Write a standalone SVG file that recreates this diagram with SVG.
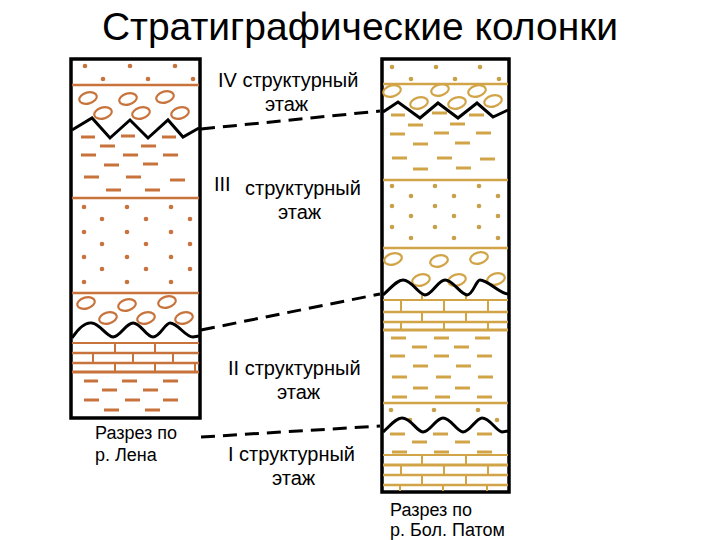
<svg xmlns="http://www.w3.org/2000/svg" width="720" height="540" viewBox="0 0 720 540">
<style>
text{font-family:"Liberation Sans",Arial,sans-serif;fill:#000}
.lbl{font-size:20px}
.cap{font-size:18px}
.L{stroke:#c8733c;fill:none}
.R{stroke:#d2a448;fill:none}
.dl{fill:#c8733c}.dr{fill:#c9a04a}
.zig{stroke:#000;stroke-width:3;fill:none;stroke-linejoin:miter}
.frame{fill:#fff;stroke:#000;stroke-width:3.5}
.con{stroke:#000;stroke-width:3;stroke-dasharray:14,8;fill:none}
</style>
<defs>
<ellipse id="ov" cx="0" cy="0" rx="9" ry="5.5" transform="rotate(-15)" stroke-width="2.2"/>
</defs>
<rect width="720" height="540" fill="#fff"/>
<text x="360" y="40" font-size="39" text-anchor="middle">Стратиграфические колонки</text>

<g id="col-lena">
<rect class="frame" x="71" y="59" width="129" height="359"/>
<g class="dl">
<circle cx="85" cy="66" r="2.3"/><circle cx="130" cy="66" r="2.3"/><circle cx="175" cy="66" r="2.3"/>
<circle cx="103" cy="79" r="2.3"/><circle cx="148" cy="79" r="2.3"/><circle cx="193" cy="79" r="2.3"/>
<circle cx="84" cy="207" r="2.3"/><circle cx="127" cy="207" r="2.3"/><circle cx="171" cy="207" r="2.3"/>
<circle cx="102" cy="219" r="2.3"/><circle cx="146" cy="219" r="2.3"/><circle cx="190" cy="219" r="2.3"/>
<circle cx="84" cy="232" r="2.3"/><circle cx="127" cy="232" r="2.3"/><circle cx="171" cy="232" r="2.3"/>
<circle cx="102" cy="244" r="2.3"/><circle cx="146" cy="244" r="2.3"/><circle cx="190" cy="244" r="2.3"/>
<circle cx="84" cy="257" r="2.3"/><circle cx="127" cy="257" r="2.3"/><circle cx="171" cy="257" r="2.3"/>
<circle cx="102" cy="269" r="2.3"/><circle cx="146" cy="269" r="2.3"/><circle cx="190" cy="269" r="2.3"/>
<circle cx="84" cy="282" r="2.3"/><circle cx="127" cy="282" r="2.3"/><circle cx="171" cy="282" r="2.3"/>
</g>
<g class="L" stroke-width="2.5">
<line x1="72" y1="85" x2="199" y2="85"/>
<line x1="72" y1="198" x2="199" y2="198"/>
<line x1="72" y1="293" x2="199" y2="293"/>
<line x1="72" y1="343" x2="199" y2="343" stroke-width="2"/>
<line x1="72" y1="353" x2="199" y2="353"/>
<line x1="72" y1="363" x2="199" y2="363"/>
<line x1="72" y1="372" x2="199" y2="372" stroke-width="3"/>
<path d="M115,343v10M155,343v10M93,353v10M133,353v10M173,353v10M115,363v9M155,363v9M195,363v9" stroke-width="2"/>
</g>
<g class="L">
<use href="#ov" x="88" y="98"/><use href="#ov" x="128" y="99"/><use href="#ov" x="165" y="97"/>
<use href="#ov" x="103" y="113"/><use href="#ov" x="141" y="113"/><use href="#ov" x="180" y="113"/>
<use href="#ov" x="86" y="303"/><use href="#ov" x="127" y="305"/><use href="#ov" x="167" y="302"/>
<use href="#ov" x="108" y="318"/><use href="#ov" x="146" y="318"/><use href="#ov" x="184" y="318"/>
</g>
<path class="L" stroke-width="3" d="M81,137h14M121,136h14M162,137h14M100,146h15M141,146h15M81,155h15M123,155h15M163,155h15M104,165h15M143,164h15M84,177h15M126,177h15M170,180h15M106,190h15M145,190h15M84,381h14M122,381h15M163,381h15M102,390h15M143,390h15M84,400h15M125,400h15M163,400h15M104,410h15M145,410h15"/>
<path class="zig" d="M72,130L92,118L110,138L130,120L148,138L168,120L183,137L199,128"/>
<path class="zig" d="M72,338C80,326 86,322 92,323C100,324 106,336 113,337C120,337 126,323 133,323C141,323 146,337 153,337C160,337 165,323 170,323C178,323 185,337 193,337L199,336"/>
</g>

<g id="col-patom">
<rect class="frame" x="382" y="59" width="127" height="433"/>
<g class="dr">
<circle cx="392" cy="67" r="2.3"/><circle cx="436" cy="67" r="2.3"/><circle cx="480" cy="67" r="2.3"/>
<circle cx="411" cy="79" r="2.3"/><circle cx="455" cy="79" r="2.3"/><circle cx="499" cy="79" r="2.3"/>
<circle cx="392" cy="186" r="2.3"/><circle cx="435" cy="186" r="2.3"/><circle cx="479" cy="186" r="2.3"/>
<circle cx="411" cy="196" r="2.3"/><circle cx="454" cy="196" r="2.3"/><circle cx="498" cy="196" r="2.3"/>
<circle cx="392" cy="206" r="2.3"/><circle cx="435" cy="206" r="2.3"/><circle cx="479" cy="206" r="2.3"/>
<circle cx="411" cy="216" r="2.3"/><circle cx="454" cy="216" r="2.3"/><circle cx="498" cy="216" r="2.3"/>
<circle cx="392" cy="227" r="2.3"/><circle cx="435" cy="227" r="2.3"/><circle cx="479" cy="227" r="2.3"/>
<circle cx="411" cy="238" r="2.3"/><circle cx="454" cy="238" r="2.3"/><circle cx="498" cy="238" r="2.3"/>
<circle cx="391" cy="410" r="2.3"/><circle cx="434" cy="410" r="2.3"/><circle cx="478" cy="410" r="2.3"/>
<circle cx="410" cy="420" r="2.3"/><circle cx="497" cy="420" r="2.3"/>
</g>
<g class="R" stroke-width="2.5">
<line x1="383" y1="84" x2="508" y2="84"/>
<line x1="383" y1="180" x2="508" y2="180"/>
<line x1="383" y1="248" x2="508" y2="248"/>
<line x1="383" y1="300" x2="508" y2="300" stroke-width="2"/>
<line x1="383" y1="312" x2="508" y2="312"/>
<line x1="383" y1="322" x2="508" y2="322"/>
<line x1="383" y1="330" x2="508" y2="330" stroke-width="3"/>
<line x1="383" y1="403" x2="508" y2="403"/>
<line x1="383" y1="455" x2="508" y2="455" stroke-width="2"/>
<line x1="383" y1="465" x2="508" y2="465" stroke-width="3"/>
<line x1="383" y1="475" x2="508" y2="475"/>
<line x1="383" y1="485" x2="508" y2="485"/>
<path d="M422,294v6M466,294v6M401,300v12M444,300v12M488,300v12M422,312v10M466,312v10M401,322v8M444,322v8M488,322v8M422,455v10M466,455v10M401,465v10M444,465v10M488,465v10M422,475v10M466,475v10M400,485v6M443,485v6M487,485v6" stroke-width="2"/>
</g>
<g class="R">
<use href="#ov" x="392" y="91"/><use href="#ov" x="440" y="90"/><use href="#ov" x="477" y="91"/>
<use href="#ov" x="419" y="103"/><use href="#ov" x="457" y="103"/><use href="#ov" x="493" y="101"/>
<use href="#ov" x="393" y="259"/><use href="#ov" x="439" y="261"/><use href="#ov" x="479" y="258"/>
<use href="#ov" x="421" y="280"/><use href="#ov" x="457" y="280"/><use href="#ov" x="496" y="279"/>
</g>
<path class="R" stroke-width="3" d="M391,115h14M432,113h15M469,115h15M408,125h15M450,124h15M390,134h15M434,133h15M476,133h15M413,144h15M455,143h15M392,158h15M437,158h15M480,159h15M413,169h15M456,168h15M391,338h15M434,338h15M475,338h15M412,347h15M454,347h15M390,356h15M434,356h15M477,356h15M413,366h15M456,366h15M392,377h15M436,377h15M478,377h15M413,388h15M455,388h15M392,397h15M435,397h15M477,397h15M390,434h15M433,434h15M477,434h15M412,442h15M455,442h15M392,452h15M434,452h15M477,452h15"/>
<path class="zig" d="M383,112L398,102L420,118L438,103L458,118L477,103L493,117L508,110"/>
<path class="zig" d="M383,295C392,287 397,280 403,280C412,280 418,294 425,295C432,295 438,280 445,280C453,280 460,294 467,295C473,295 476,280 480,280C488,280 500,294 508,294"/>
<path class="zig" d="M383,432C391,425 396,418 402,418C411,418 416,431 423,432C430,432 436,418 443,418C451,418 456,431 463,432C470,432 476,418 482,418C490,418 496,431 502,432L508,431"/>
</g>

<g id="connectors">
<path class="con" d="M201,129L380,111"/>
<path class="con" d="M201,330L380,294"/>
<path class="con" d="M201,437L380,426"/>
</g>

<g id="labels">
<text class="lbl" x="218" y="87">IV структурный</text>
<text class="lbl" x="265" y="111">этаж</text>
<text class="lbl" x="214" y="191">III</text>
<text class="lbl" x="245" y="195">структурный</text>
<text class="lbl" x="278" y="219">этаж</text>
<text class="lbl" x="228" y="375">II структурный</text>
<text class="lbl" x="277" y="399">этаж</text>
<text class="lbl" x="228" y="461">I структурный</text>
<text class="lbl" x="272" y="485">этаж</text>
<text class="cap" x="95" y="439">Разрез по</text>
<text class="cap" x="95" y="461">р. Лена</text>
<text class="cap" x="390" y="516">Разрез по</text>
<text class="cap" x="390" y="536">р. Бол. Патом</text>
</g>
</svg>
